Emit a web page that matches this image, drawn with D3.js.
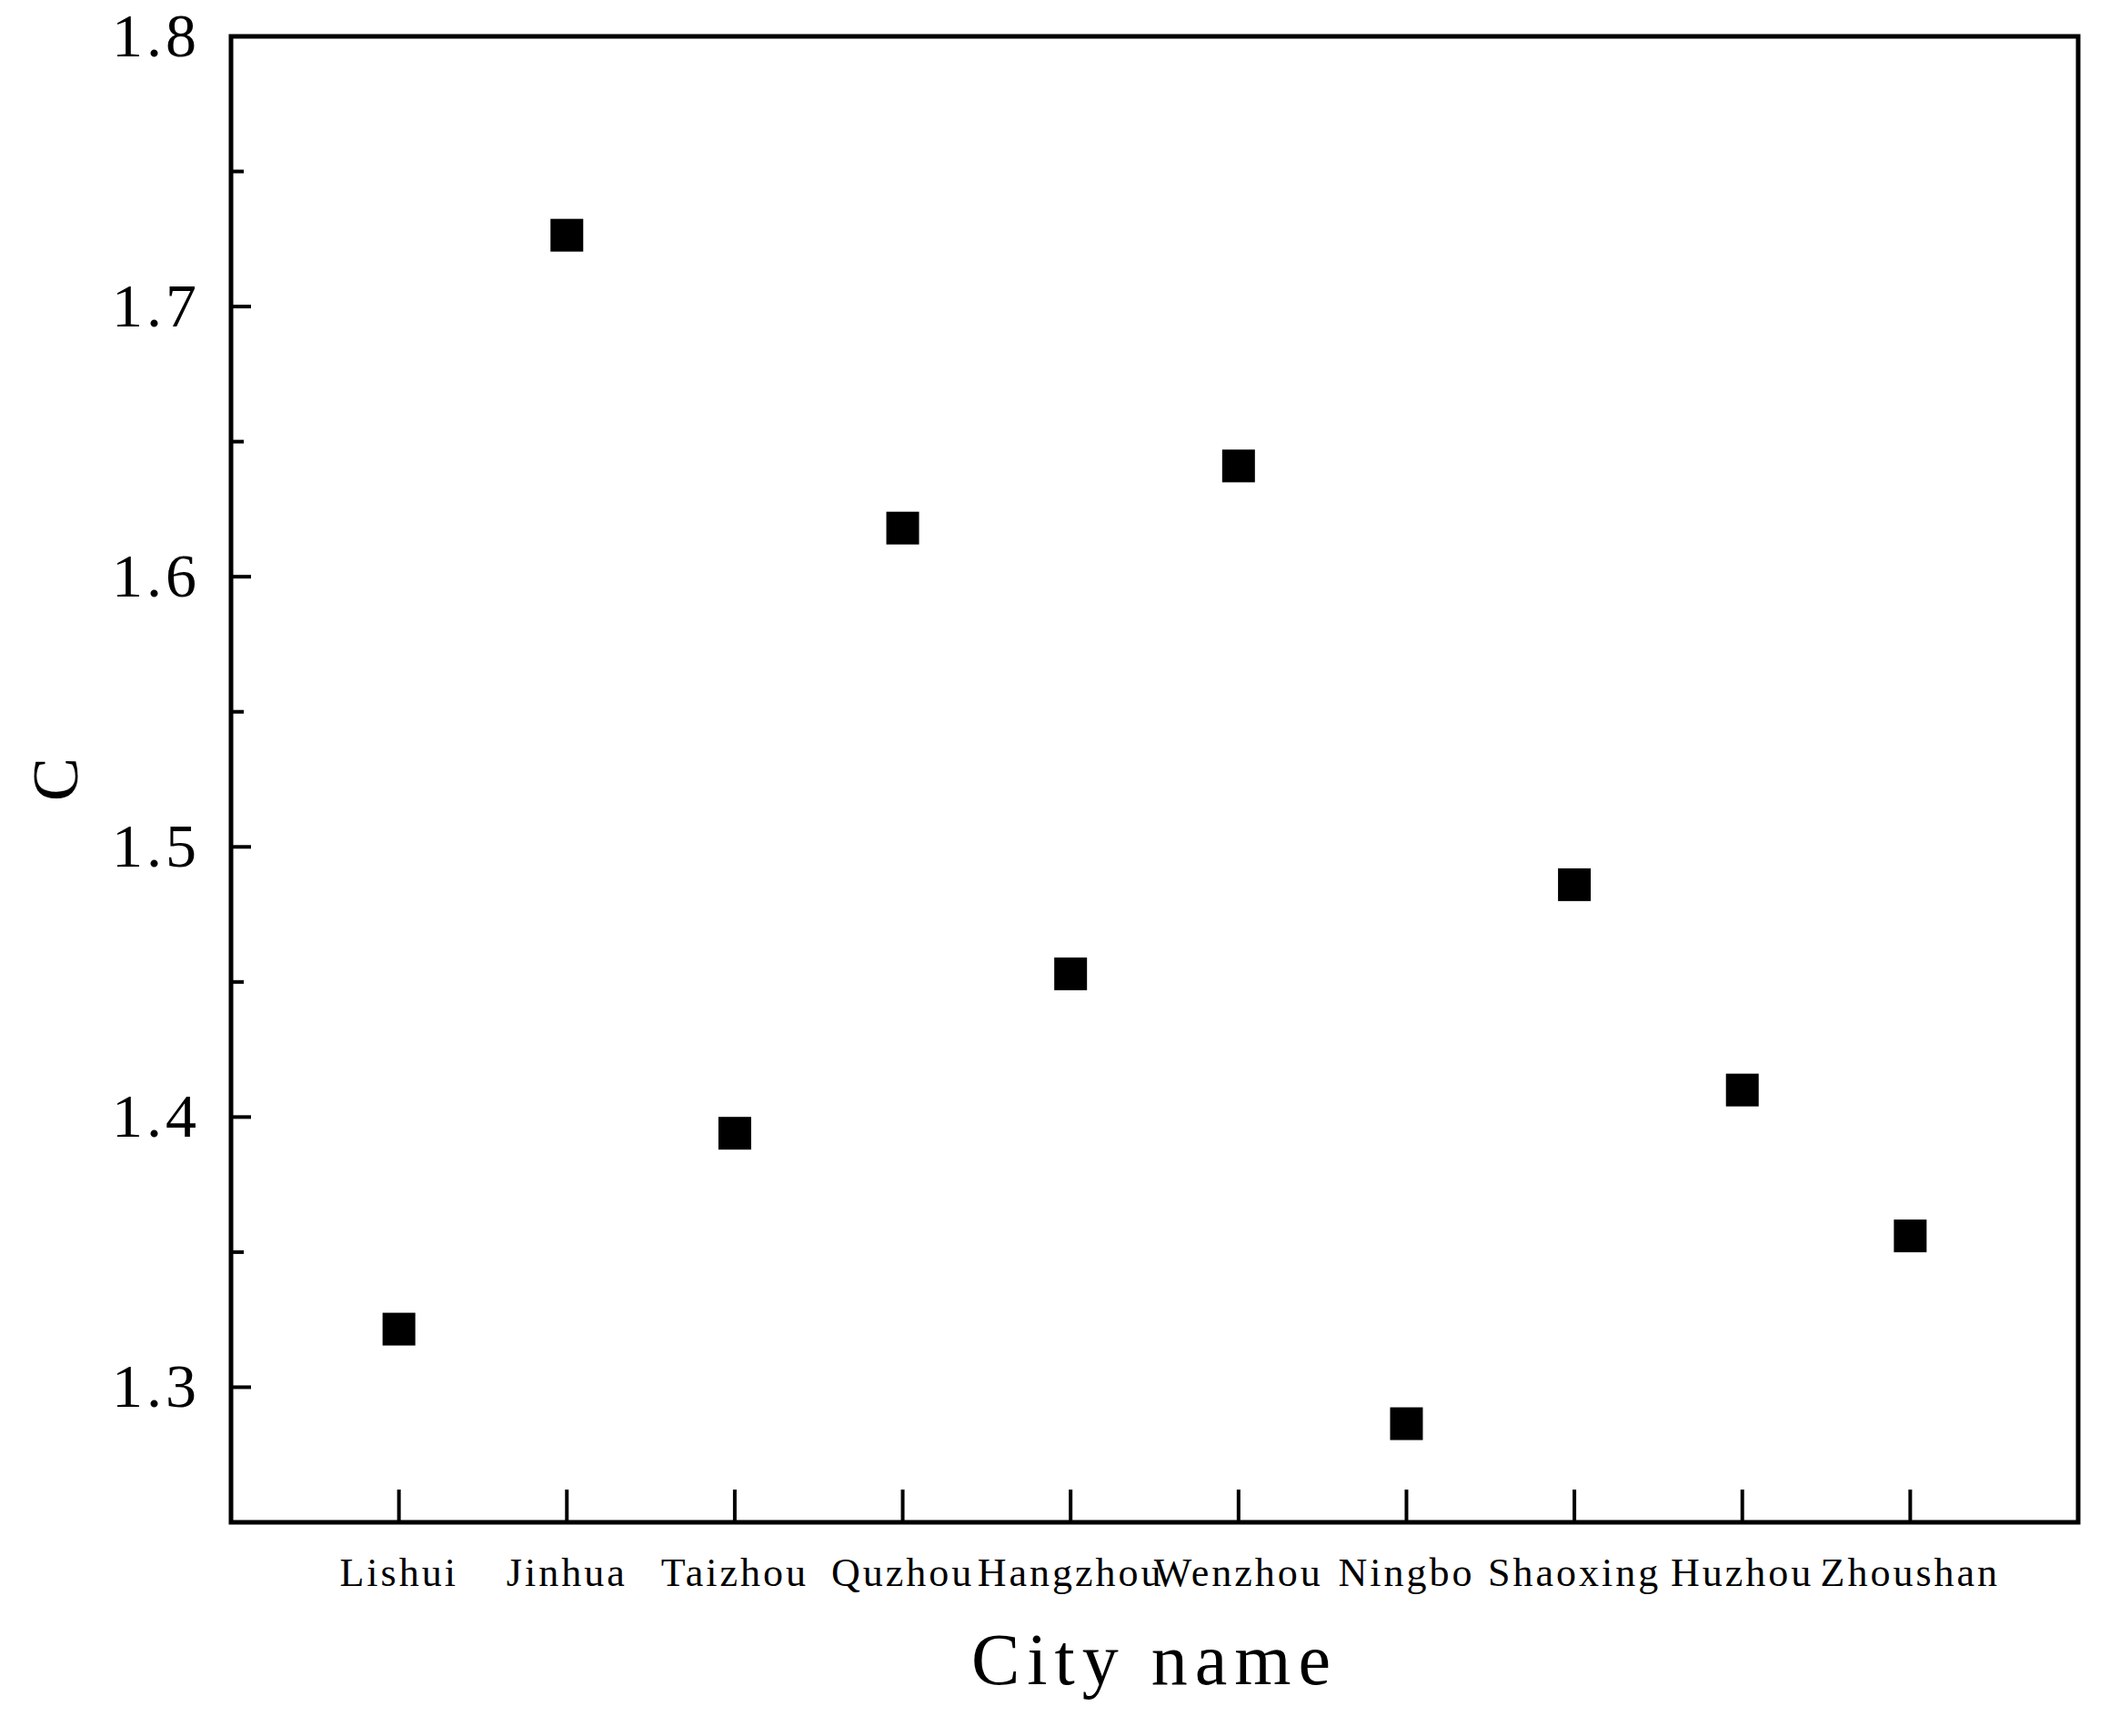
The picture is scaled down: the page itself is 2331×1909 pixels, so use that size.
<!DOCTYPE html>
<html><head><meta charset="utf-8">
<script src="https://cdn.jsdelivr.net/npm/d3@7"></script>
<style>body{margin:0;background:#fff}</style></head>
<body><svg id="c" width="2331" height="1909"></svg>
<script>
const cities=["Lishui","Jinhua","Taizhou","Quzhou","Hangzhou","Wenzhou","Ningbo","Shaoxing","Huzhou","Zhoushan"];
const values=[1.3215,1.7264,1.394,1.618,1.453,1.641,1.2865,1.486,1.41,1.356];
const yTicks=[1.3,1.4,1.5,1.6,1.7,1.8];
const yMinor=[1.35,1.45,1.55,1.65,1.75];

const L=254,R=2285,T=40,B=1674;
const svg=d3.select("#c");
const font="'Liberation Serif','DejaVu Serif',serif";
const x=d3.scaleLinear().domain([0,11]).range([L,R]);
const y=d3.scaleLinear().domain([1.25,1.8]).range([B,T]);
const g=svg.append("g");
g.selectAll(".yt").data(yTicks).join("line").attr("x1",L).attr("x2",L+22)
 .attr("y1",d=>y(d)).attr("y2",d=>y(d)).attr("stroke","#000").attr("stroke-width",4);
g.selectAll(".ym").data(yMinor).join("line").attr("x1",L).attr("x2",L+14)
 .attr("y1",d=>y(d)).attr("y2",d=>y(d)).attr("stroke","#000").attr("stroke-width",4);
g.selectAll(".yl").data(yTicks).join("text").attr("x",L-34).attr("y",d=>y(d)+22)
 .attr("text-anchor","end").attr("font-family",font).attr("font-size",68).attr("letter-spacing",4).text(d=>d.toFixed(1));
g.selectAll(".xt").data(cities).join("line").attr("x1",(d,i)=>x(i+1)).attr("x2",(d,i)=>x(i+1))
 .attr("y1",B).attr("y2",B-36).attr("stroke","#000").attr("stroke-width",4);
g.selectAll(".xl").data(cities).join("text").attr("x",(d,i)=>x(i+1)).attr("y",B+70)
 .attr("text-anchor","middle").attr("font-family",font).attr("font-size",44).attr("letter-spacing",3).text(d=>d);
g.append("rect").attr("x",L).attr("y",T).attr("width",R-L).attr("height",B-T)
 .attr("fill","none").attr("stroke","#000").attr("stroke-width",5);
const s=36;
g.selectAll(".p").data(values).join("rect").attr("x",(d,i)=>x(i+1)-s/2).attr("y",d=>y(d)-s/2)
 .attr("width",s).attr("height",s).attr("fill","#000");
svg.append("text").attr("x",(L+R)/2).attr("y",1852).attr("text-anchor","middle")
 .attr("font-family",font).attr("font-size",80).attr("letter-spacing",8).text("City name");
svg.append("text").attr("transform",`translate(85,${(T+B)/2}) rotate(-90)`).attr("text-anchor","middle")
 .attr("font-family",font).attr("font-size",72).text("C");
</script></body></html>
